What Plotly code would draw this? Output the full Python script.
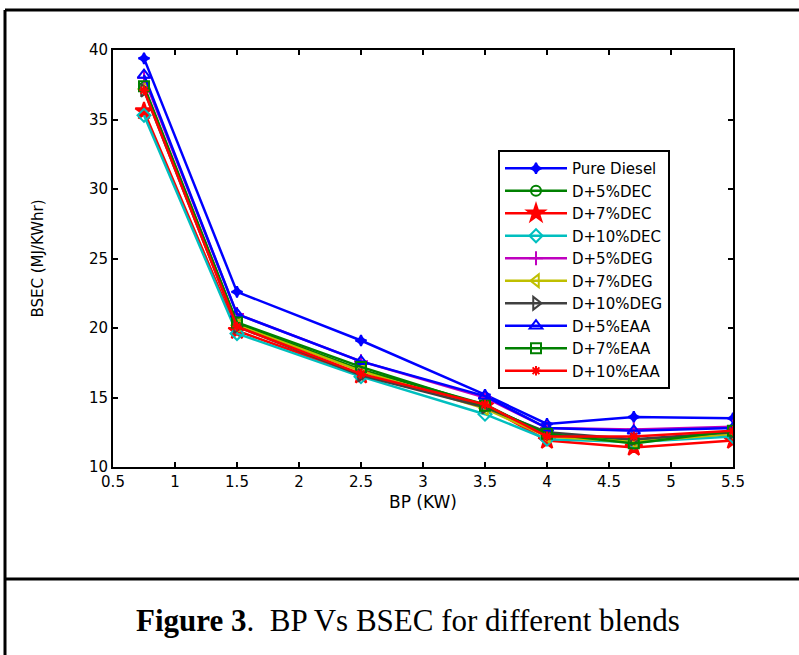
import plotly.graph_objects as go

bp = [0.75, 1.5, 2.5, 3.5, 4.0, 4.7, 5.5]

names = ["Pure Diesel", "D+5%DEC", "D+7%DEC", "D+10%DEC", "D+5%DEG",
         "D+7%DEG", "D+10%DEG", "D+5%EAA", "D+7%EAA", "D+10%EAA"]

pure_diesel = [39.4, 22.6, 19.1, 15.2, 13.1, 13.6, 13.5]
d5_dec = [37.3, 20.3, 17.0, 14.5, 12.3, 11.9, 12.4]
d7_dec = [35.6, 19.8, 16.6, 14.4, 11.9, 11.4, 11.9]
d10_dec = [35.3, 19.6, 16.5, 13.8, 12.0, 11.8, 12.2]
d5_deg = [38.0, 21.0, 17.6, 15.0, 12.8, 12.7, 12.9]
d7_deg = [37.2, 20.2, 16.9, 14.2, 12.2, 11.8, 12.4]
d10_deg = [37.1, 20.1, 16.6, 14.3, 12.5, 12.0, 12.5]
d5_eaa = [38.2, 21.0, 17.6, 15.1, 12.8, 12.6, 12.8]
d7_eaa = [37.4, 20.4, 17.2, 14.4, 12.4, 11.7, 12.6]
d10_eaa = [37.1, 20.1, 16.7, 14.5, 12.2, 12.2, 12.6]

series = [pure_diesel, d5_dec, d7_dec, d10_dec, d5_deg,
          d7_deg, d10_deg, d5_eaa, d7_eaa, d10_eaa]

colors = ["#0000FF", "#008000", "#FF0000", "#00BFBF", "#BF00BF",
          "#BFBF00", "#404040", "#0000FF", "#008000", "#FF0000"]
symbols = ["star-diamond", "circle-open", "star", "diamond-open", "cross-thin-open",
           "triangle-left-open", "triangle-right-open", "triangle-up-open",
           "square-open", "asterisk-open"]
sizes = [8, 10, 13, 10, 10, 11, 11, 11, 10, 8]

x_ticks = [0.5, 1, 1.5, 2, 2.5, 3, 3.5, 4, 4.5, 5, 5.5]
y_ticks = [10, 15, 20, 25, 30, 35, 40]

SANS = "DejaVu Sans, Arial"

fig = go.Figure()
for name, ys, c, s, sz in zip(names, series, colors, symbols, sizes):
    fig.add_trace(go.Scatter(
        x=bp, y=ys, name=name, mode="lines+markers",
        line=dict(color=c, width=2.5),
        marker=dict(symbol=s, size=sz, color=c, line=dict(color=c, width=2)),
    ))

axis_common = dict(
    showline=True, linecolor="black", linewidth=2, mirror="ticks",
    ticks="inside", ticklen=5, tickwidth=1.5, tickcolor="black",
    showgrid=False, zeroline=False,
    tickfont=dict(family=SANS, size=15, color="black"),
)

fig.update_xaxes(range=[0.5, 5.5], tickvals=x_ticks,
                 ticktext=[str(v) for v in x_ticks],
                 title=dict(text="BP (KW)", font=dict(family=SANS, size=17, color="black"), standoff=6),
                 **axis_common)
fig.update_yaxes(range=[10, 40], tickvals=y_ticks,
                 title=dict(text="BSEC (MJ/KWhr)", font=dict(family=SANS, size=15, color="black"), standoff=42),
                 **axis_common)

L, R, T, B = 113, 66, 50, 188
W, H = 799, 655
pw, ph = W - L - R, H - T - B

def px(xp):
    return (xp - L) / pw

def py(yp):
    return (H - B - yp) / ph

frame = dict(color="black", width=3)
shapes = [
    dict(type="line", xref="paper", yref="paper", x0=px(5), x1=px(5), y0=py(10), y1=py(660), line=frame),
    dict(type="line", xref="paper", yref="paper", x0=px(5), x1=px(805), y0=py(10), y1=py(10), line=frame),
    dict(type="line", xref="paper", yref="paper", x0=px(5), x1=px(805), y0=py(579), y1=py(579), line=frame),
]

fig.update_layout(
    width=W, height=H,
    margin=dict(l=L, r=R, t=T, b=B),
    paper_bgcolor="white", plot_bgcolor="white",
    shapes=shapes,
    showlegend=True,
    legend=dict(x=px(498), y=py(150), xanchor="left", yanchor="top",
                bgcolor="white", bordercolor="black", borderwidth=2,
                itemwidth=62,
                font=dict(family=SANS, size=15, color="black"),
                tracegroupgap=0),
    annotations=[dict(
        text="<b>Figure 3</b>.  BP Vs BSEC for different blends",
        xref="paper", yref="paper", x=px(408), y=py(620),
        xanchor="center", yanchor="middle", showarrow=False,
        font=dict(family="Liberation Serif, Times New Roman", size=31, color="black"),
    )],
)

fig.write_html("out.html")
